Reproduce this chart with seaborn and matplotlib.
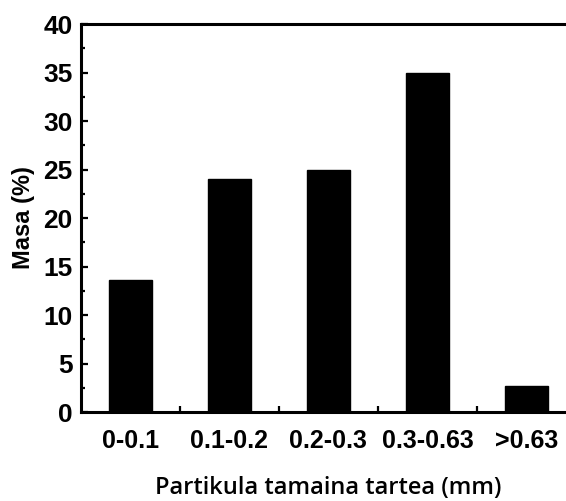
import matplotlib
matplotlib.use("Agg")
import matplotlib.pyplot as plt
from matplotlib.ticker import MultipleLocator, FixedLocator
import seaborn as sns
import pandas as pd

# Particle size classes and mass fraction per class
size_classes = ["0-0.1", "0.1-0.2", "0.2-0.3", "0.3-0.63", ">0.63"]
mass_pct = [13.6, 24.0, 25.0, 35.0, 2.7]

df = pd.DataFrame({"class": size_classes, "mass": mass_pct})

sns.set_theme(style="ticks")
plt.rcParams["font.family"] = ["Liberation Sans", "DejaVu Sans"]
plt.rcParams["text.color"] = "black"
plt.rcParams["axes.labelcolor"] = "black"

fig = plt.figure(figsize=(5.66, 5.01), dpi=100)
ax = fig.add_axes([0.1426, 0.1776, 1.0177 - 0.1426, 0.952 - 0.1776])

sns.barplot(data=df, x="class", y="mass", color="black", width=0.43,
            saturation=1, ax=ax, edgecolor="black")

ax.set_xlim(-0.5, 4.5)
ax.set_ylim(0, 40)
ax.yaxis.set_major_locator(MultipleLocator(5))
ax.yaxis.set_minor_locator(MultipleLocator(2.5))
ax.xaxis.set_minor_locator(FixedLocator([0.5, 1.5, 2.5, 3.5]))

for s in ax.spines.values():
    s.set_linewidth(2.2)
    s.set_color("black")

ax.tick_params(axis="y", which="major", direction="in", length=5, width=1.6,
               labelsize=19, pad=6, colors="black")
ax.tick_params(axis="y", which="minor", direction="in", length=3, width=1.6,
               colors="black")
ax.tick_params(axis="x", which="major", direction="in", length=0,
               labelsize=18, pad=12, colors="black")
ax.tick_params(axis="x", which="minor", direction="in", length=4, width=1.6,
               colors="black")

for lbl in ax.get_xticklabels() + ax.get_yticklabels():
    lbl.set_fontweight("bold")

ax.set_ylabel("Masa (%)", fontsize=17, fontweight="bold", labelpad=6,
              color="black")
ax.set_xlabel("Partikula tamaina tartea (mm)", fontsize=17,
              fontfamily=["Open Sans", "DejaVu Sans"], fontweight="semibold",
              color="black")
ax.xaxis.set_label_coords((328 - 80.7) / (576 - 80.7), -0.165)

fig.savefig("out.png", dpi=100)
